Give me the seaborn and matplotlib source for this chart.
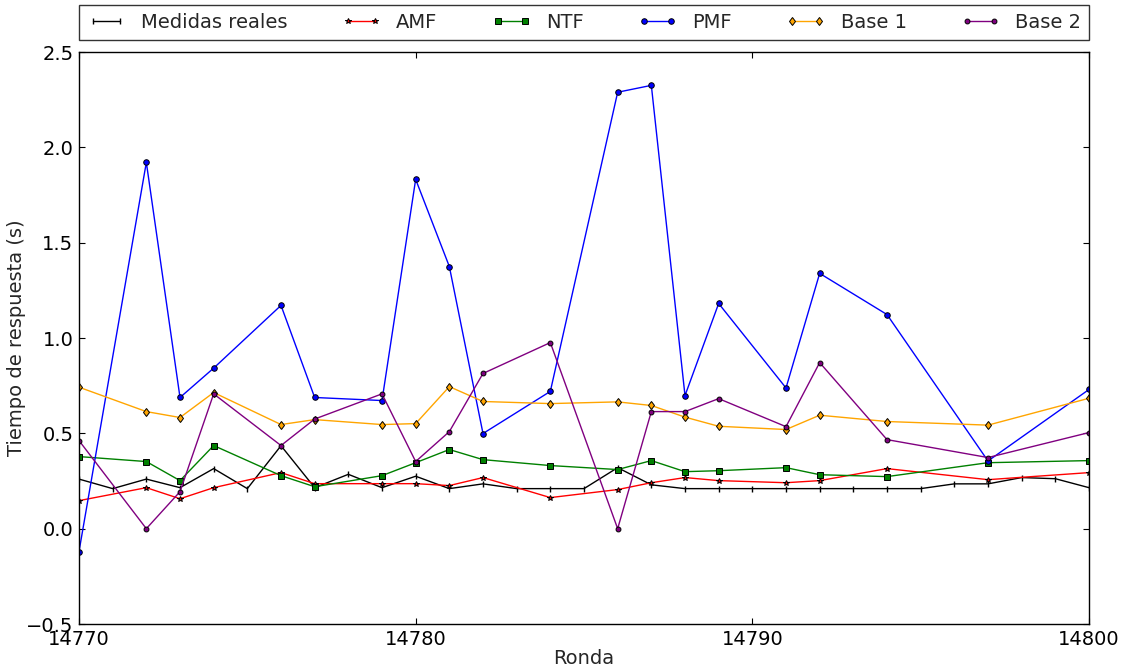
import matplotlib
matplotlib.use("Agg")
import matplotlib.pyplot as plt
import numpy as np
import pandas as pd
import seaborn as sns

# Rounds at which the real response time was measured
rondas_reales = list(range(14770, 14801))
medidas_reales = [0.26, 0.21, 0.26, 0.215, 0.315, 0.21, 0.435, 0.215, 0.285, 0.215,
                  0.275, 0.21, 0.235, 0.21, 0.21, 0.21, 0.32, 0.23, 0.21, 0.21,
                  0.21, 0.21, 0.21, 0.21, 0.21, 0.21, 0.235, 0.235, 0.268, 0.262,
                  0.215]

# Rounds at which the predictors were evaluated
rondas_pred = [14770, 14772, 14773, 14774, 14776, 14777, 14779, 14780, 14781, 14782,
               14784, 14786, 14787, 14788, 14789, 14791, 14792, 14794, 14797, 14800]

amf = [0.147, 0.215, 0.157, 0.215, 0.294, 0.236, 0.236, 0.236, 0.226, 0.268,
       0.163, 0.205, 0.241, 0.268, 0.252, 0.241, 0.252, 0.315, 0.257, 0.294]
ntf = [0.378, 0.352, 0.252, 0.436, 0.278, 0.22, 0.278, 0.346, 0.415, 0.362,
       0.331, 0.31, 0.357, 0.299, 0.304, 0.32, 0.283, 0.273, 0.346, 0.357]
pmf = [-0.12, 1.921, 0.688, 0.842, 1.171, 0.688, 0.672, 1.832, 1.375, 0.499,
       0.72, 2.289, 2.325, 0.698, 1.181, 0.738, 1.339, 1.123, 0.355, 0.73]
base1 = [0.742, 0.614, 0.583, 0.714, 0.546, 0.572, 0.546, 0.551, 0.745, 0.667,
         0.656, 0.665, 0.646, 0.585, 0.537, 0.52, 0.595, 0.562, 0.543, 0.684]
base2 = [0.462, 0.0, 0.194, 0.707, 0.436, 0.575, 0.707, 0.352, 0.509, 0.814,
         0.976, 0.0, 0.614, 0.614, 0.682, 0.535, 0.871, 0.467, 0.373, 0.504]

sns.set_style("white")
plt.rcParams.update({
    "font.family": ["DejaVu Sans"],
    "font.size": 14,
    "axes.linewidth": 1.0,
    "axes.edgecolor": "black",
    "xtick.direction": "in",
    "ytick.direction": "in",
    "xtick.top": True,
    "ytick.right": True,
    "xtick.bottom": True,
    "ytick.left": True,
    "xtick.major.size": 4,
    "ytick.major.size": 4,
    "xtick.color": "black",
    "ytick.color": "black",
    "lines.linewidth": 1.0,
})

fig = plt.figure(figsize=(11.24, 6.68), dpi=100)
ax = fig.add_axes([79 / 1124, 1 - 624 / 668, (1089 - 79) / 1124, (624 - 52) / 668])

df_real = pd.DataFrame({"Ronda": rondas_reales, "t": medidas_reales})
df_pred = pd.DataFrame({"Ronda": rondas_pred, "AMF": amf, "NTF": ntf,
                        "PMF": pmf, "Base 1": base1, "Base 2": base2})

sns.lineplot(data=df_real, x="Ronda", y="t", ax=ax, color="black", marker="|",
             markersize=5, markeredgewidth=1, markeredgecolor="black",
             label="Medidas reales", linewidth=1)

estilos = [
    ("AMF", "red", "*", 4),
    ("NTF", "green", "s", 4),
    ("PMF", "blue", "o", 4),
    ("Base 1", "orange", "d", 4.5),
    ("Base 2", "purple", "o", 3.5),
]
for nombre, color, marcador, tam in estilos:
    sns.lineplot(data=df_pred, x="Ronda", y=nombre, ax=ax, color=color,
                 marker=marcador, markersize=tam, markerfacecolor=color,
                 markeredgecolor="black", markeredgewidth=0.7,
                 label=nombre, linewidth=1)

ax.set_xlim(14770, 14800)
ax.set_ylim(-0.5, 2.5)
ax.set_xticks([14770, 14780, 14790, 14800])
ax.set_yticks(np.arange(-0.5, 2.51, 0.5))
ax.xaxis.set_major_formatter(matplotlib.ticker.FormatStrFormatter("%d"))
ax.set_xlabel("Ronda", fontsize=14, labelpad=0)
ax.set_ylabel("Tiempo de respuesta (s)", fontsize=14, labelpad=0)
ax.tick_params(labelsize=14, pad=4)
for s in ax.spines.values():
    s.set_visible(True)
    s.set_color("black")

leg = ax.legend(loc="lower left", bbox_to_anchor=(0, 1.021, 1, 0.061),
                mode="expand", ncol=6, borderaxespad=0, numpoints=2,
                fontsize=14, frameon=True, fancybox=False, handlelength=2.0)
leg.get_frame().set_edgecolor("black")
leg.get_frame().set_linewidth(1.0)

fig.savefig("out.png", dpi=100, facecolor="white")
